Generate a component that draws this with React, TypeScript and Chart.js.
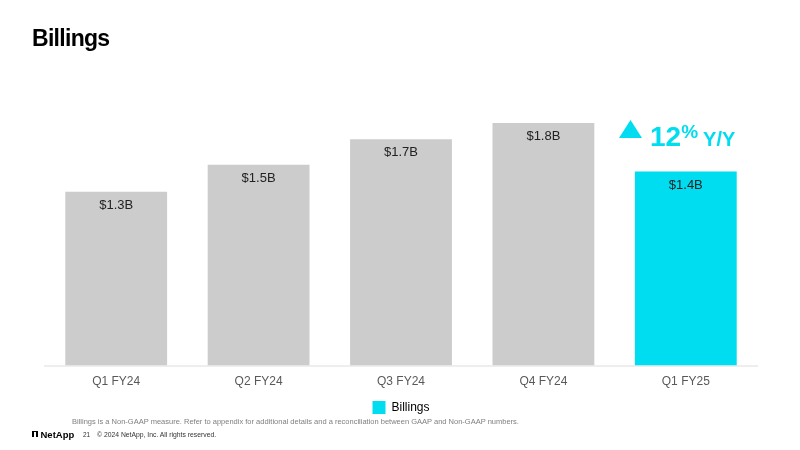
import React, { useEffect, useRef } from "react";
import { Chart, registerables } from "chart.js";

Chart.register(...registerables);

const categories = ["Q1 FY24", "Q2 FY24", "Q3 FY24", "Q4 FY24", "Q1 FY25"];
const billings = [1.29, 1.49, 1.68, 1.8, 1.44];
const barColors = ["#CCCCCC", "#CCCCCC", "#CCCCCC", "#CCCCCC", "#00DCF0"];
const seriesName = "Billings";
const CYAN = "#00DCF0";

const valueLabels = {
  id: "valueLabels",
  afterDatasetsDraw(chart: any) {
    const ctx = chart.ctx;
    const meta = chart.getDatasetMeta(0);
    ctx.save();
    ctx.font = "13px 'Liberation Sans', Arial, sans-serif";
    ctx.fillStyle = "#222222";
    ctx.textAlign = "center";
    ctx.textBaseline = "middle";
    meta.data.forEach((bar: any, i: number) => {
      const v = billings[i];
      ctx.fillText("$" + v.toFixed(1) + "B", bar.x, bar.y + 13.5);
    });
    ctx.restore();
  },
};

export default function App() {
  const ref = useRef<HTMLCanvasElement | null>(null);

  useEffect(() => {
    if (!ref.current) return;
    const chart = new Chart(ref.current, {
      type: "bar",
      data: {
        labels: categories,
        datasets: [
          {
            label: seriesName,
            data: billings,
            backgroundColor: barColors,
            borderWidth: 0,
            categoryPercentage: 1,
            barPercentage: 0.715,
          },
        ],
      },
      options: {
        responsive: false,
        animation: false,
        layout: { padding: { top: 96, left: 45, right: 43, bottom: 26 } },
        scales: {
          x: {
            grid: { display: false, drawTicks: false },
            border: { display: true, color: "#EEEEEE", width: 2 },
            ticks: {
              color: "#595959",
              font: { family: "'Liberation Sans', Arial, sans-serif", size: 12 },
              padding: 9,
            },
          },
          y: {
            display: false,
            min: 0,
            max: 2,
          },
        },
        plugins: {
          tooltip: { enabled: false },
          legend: {
            display: true,
            position: "bottom",
            labels: {
              boxWidth: 13,
              boxHeight: 13,
              padding: 3,
              color: "#666666",
              font: { family: "'Liberation Sans', Arial, sans-serif", size: 12 },
              generateLabels: () => [
                {
                  text: seriesName,
                  fillStyle: CYAN,
                  strokeStyle: CYAN,
                  lineWidth: 0,
                  hidden: false,
                  datasetIndex: 0,
                },
              ],
            },
          },
        },
      },
      plugins: [valueLabels],
    });
    return () => chart.destroy();
  }, []);

  const sans = "'Liberation Sans', Arial, sans-serif";

  return (
    <div
      style={{
        position: "fixed",
        left: 0,
        top: 0,
        width: 800,
        height: 450,
        background: "#FFFFFF",
        overflow: "hidden",
        fontFamily: sans,
      }}
    >
      <canvas
        ref={ref}
        width={800}
        height={450}
        style={{ position: "absolute", left: 0, top: 0, width: 800, height: 450 }}
      />
      <div
        style={{
          position: "absolute",
          left: 32,
          top: 26.5,
          fontSize: 23,
          lineHeight: "23px",
          fontWeight: "bold",
          letterSpacing: "-0.7px",
          color: "#000000",
          whiteSpace: "nowrap",
        }}
      >
        Billings
      </div>
      <svg
        style={{ position: "absolute", left: 619, top: 120 }}
        width={23}
        height={18}
        viewBox="0 0 23 18"
      >
        <polygon points="11.5,0 23,18 0,18" fill={CYAN} />
      </svg>
      <div
        style={{
          position: "absolute",
          left: 650,
          top: 123,
          fontSize: 28,
          lineHeight: "28px",
          fontWeight: "bold",
          color: CYAN,
          whiteSpace: "nowrap",
        }}
      >
        <span>12</span>
        <span style={{ fontSize: 19, position: "relative", top: -8.5 }}>%</span>
        <span style={{ fontSize: 20, marginLeft: 5 }}>Y/Y</span>
      </div>
      <div
        style={{
          position: "absolute",
          left: 72,
          top: 417,
          fontSize: 7.5,
          lineHeight: "10px",
          color: "#808080",
          whiteSpace: "nowrap",
        }}
      >
        Billings is a Non-GAAP measure. Refer to appendix for additional details and a reconciliation between GAAP and Non-GAAP numbers.
      </div>
      <div
        style={{
          position: "absolute",
          left: 31.7,
          top: 430.7,
          width: 6.3,
          height: 6,
          background: "#000000",
        }}
      >
        <div
          style={{
            position: "absolute",
            left: 2.3,
            top: 1.6,
            width: 1.7,
            height: 4.4,
            background: "#FFFFFF",
          }}
        />
      </div>
      <div
        style={{
          position: "absolute",
          left: 40.5,
          top: 428.5,
          fontSize: 9.5,
          lineHeight: "11px",
          fontWeight: "bold",
          color: "#000000",
          whiteSpace: "nowrap",
        }}
      >
        NetApp
      </div>
      <div
        style={{
          position: "absolute",
          left: 83,
          top: 430,
          fontSize: 6.5,
          lineHeight: "9px",
          color: "#333333",
          whiteSpace: "nowrap",
        }}
      >
        21
      </div>
      <div
        style={{
          position: "absolute",
          left: 97,
          top: 430,
          fontSize: 6.8,
          lineHeight: "9px",
          color: "#333333",
          whiteSpace: "nowrap",
        }}
      >
        © 2024 NetApp, Inc. All rights reserved.
      </div>
    </div>
  );
}
